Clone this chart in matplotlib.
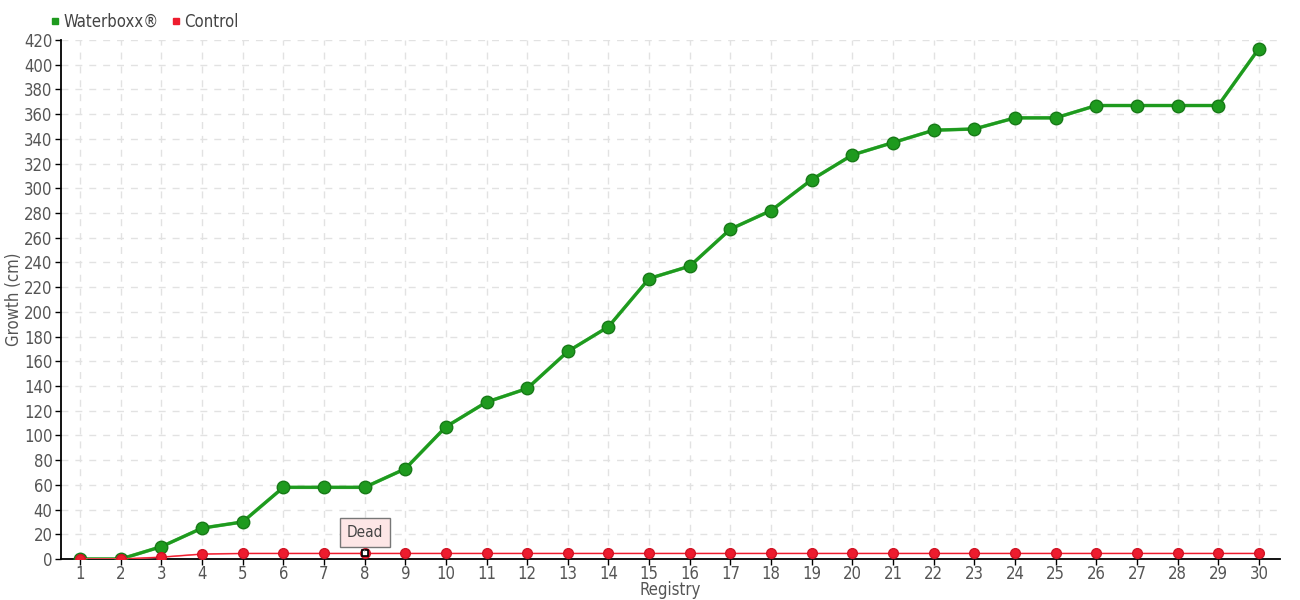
import matplotlib
matplotlib.use("Agg")
import matplotlib.pyplot as plt

plt.rcParams['font.family'] = ['DejaVu Sans']
plt.rcParams['font.stretch'] = 'condensed'

registry = list(range(1, 31))
waterboxx = [0, 0, 10, 25, 30, 58, 58, 58, 73, 107, 127, 138, 168, 188, 227,
             237, 267, 282, 307, 327, 337, 347, 348, 357, 357, 367, 367, 367, 367, 413]
control = [0, 0, 1.5, 4, 4.5, 4.5, 4.5, 4.5, 4.5, 4.5, 4.5, 4.5, 4.5, 4.5, 4.5,
           4.5, 4.5, 4.5, 4.5, 4.5, 4.5, 4.5, 4.5, 4.5, 4.5, 4.5, 4.5, 4.5, 4.5, 4.5]
yticks = list(range(0, 421, 20))
dead_at = 8

fig = plt.figure(figsize=(13, 6), dpi=100)
ax = fig.add_axes([0.0469, 0.0683, 0.9377, 0.865])

green = "#1e9a1e"
red = "#ee1c2e"

ax.plot(registry, waterboxx, color="#5cc05c", lw=2.5, zorder=3)
ax.plot(registry, waterboxx, color=green, lw=2.2, marker="o", ms=9,
        mfc=green, mec="#177a17", mew=1, zorder=4)
ax.plot(registry, control, color="#ff6d7a", lw=1.2, zorder=5)
ax.plot(registry, control, color=red, lw=0.8, marker="o", ms=7,
        mfc=red, mec="#d01525", zorder=6)

# dead marker
i = registry.index(dead_at)
ax.plot([dead_at], [control[i]], marker="s", ms=5, mfc="white", mec="black",
        mew=1.2, zorder=8, ls="none")
ax.annotate("Dead", xy=(dead_at, control[i] + 2), xytext=(dead_at, control[i] + 17),
            ha="center", va="center", fontsize=11, color="#444444",
            bbox=dict(boxstyle="square,pad=0.45", fc="#fde6e6", ec="#777777", lw=1),
            arrowprops=dict(arrowstyle="-", color="#777777", lw=0.8), zorder=9)

ax.set_xlim(0.53, 30.52)
ax.set_ylim(0, 420)
ax.set_xticks(registry)
ax.set_yticks(yticks)
ax.tick_params(axis="both", labelsize=12, length=4, width=1, color="black", pad=2)
ax.tick_params(axis="x", pad=0)
for lbl in ax.get_xticklabels() + ax.get_yticklabels():
    lbl.set_color("#555555")

ax.grid(True, ls=(0, (5, 5)), color="#e2e2e2", lw=1)
ax.set_axisbelow(True)
for s in ["top", "right"]:
    ax.spines[s].set_visible(False)
ax.spines["left"].set_linewidth(1.3)
ax.spines["bottom"].set_linewidth(1.3)

ax.set_xlabel("Registry", fontsize=12, color="#555555", labelpad=-1)
ax.set_ylabel("Growth (cm)", fontsize=12, color="#555555", labelpad=1)

h1 = plt.Line2D([], [], ls="none", marker="s", ms=5, color=green)
h2 = plt.Line2D([], [], ls="none", marker="s", ms=5, color=red)
fig.legend([h1, h2], ["Waterboxx®", "Control"], loc="upper left",
           bbox_to_anchor=(0.026, 1.003), ncol=2, frameon=False, fontsize=12,
           handletextpad=0.1, columnspacing=0.6, handlelength=0.8, labelcolor="#444444")

fig.savefig("out.png", dpi=100)
